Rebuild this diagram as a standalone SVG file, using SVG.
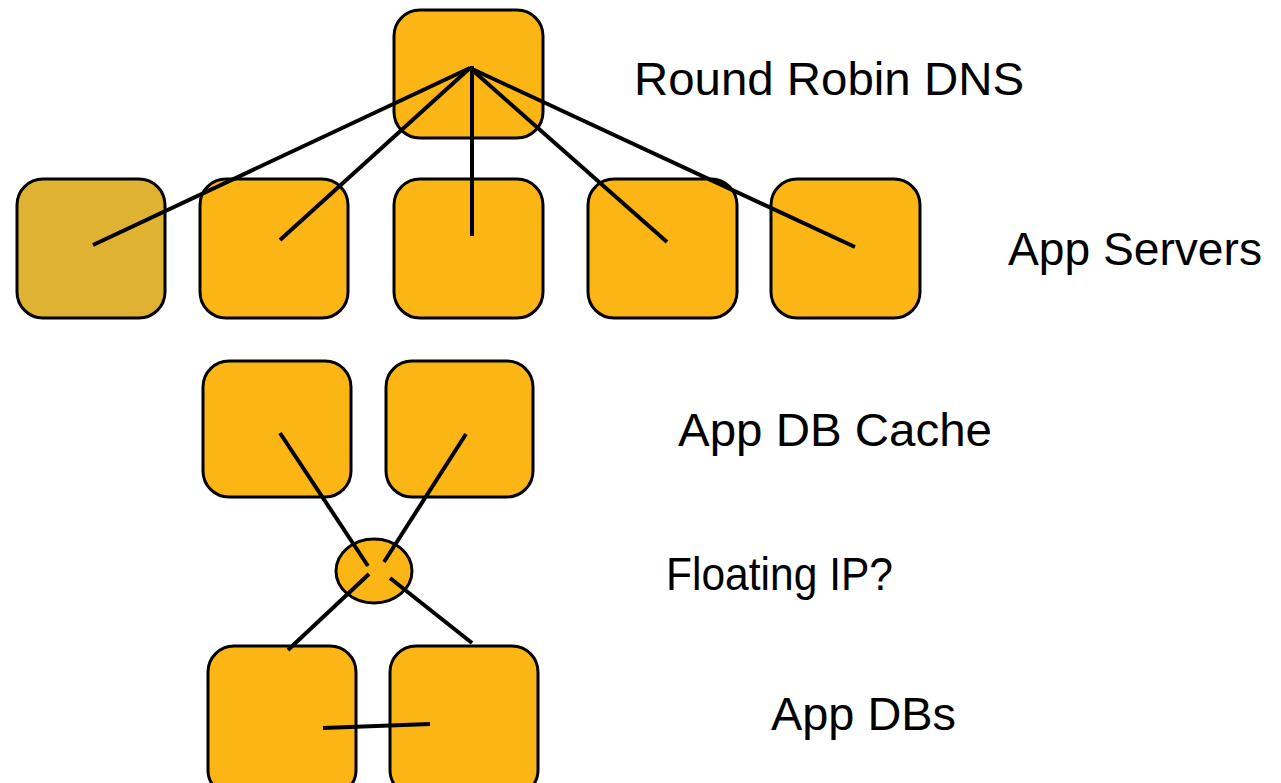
<svg xmlns="http://www.w3.org/2000/svg" width="1281" height="783" viewBox="0 0 1281 783">
  <style>
    .box { fill: #FBB616; stroke: #000; stroke-width: 3; }
    .box.dim { fill: #DFB232; }
    .link { stroke: #000; stroke-width: 4; fill: none; }
    .label { font-family: "Liberation Sans", Arial, sans-serif; font-size: 46px; fill: #000; }
  </style>
  <rect width="1281" height="783" fill="#fff"/>

  <!-- nodes -->
  <g id="dns"><rect class="box" x="394" y="10" width="149" height="128" rx="26"/></g>
  <g id="app1"><rect class="box dim" x="17" y="179" width="148" height="139" rx="26"/></g>
  <g id="app2"><rect class="box" x="200" y="179" width="148" height="139" rx="26"/></g>
  <g id="app3"><rect class="box" x="394" y="179" width="149" height="139" rx="26"/></g>
  <g id="app4"><rect class="box" x="588" y="179" width="149" height="139" rx="26"/></g>
  <g id="app5"><rect class="box" x="771" y="179" width="149" height="139" rx="26"/></g>
  <g id="cache1"><rect class="box" x="203" y="361" width="148" height="136" rx="26"/></g>
  <g id="cache2"><rect class="box" x="386" y="361" width="147" height="136" rx="26"/></g>
  <g id="floating-ip"><ellipse class="box" cx="374" cy="571" rx="38" ry="32"/></g>
  <g id="db1"><rect class="box" x="208" y="646" width="148" height="150" rx="26"/></g>
  <g id="db2"><rect class="box" x="390" y="646" width="148" height="150" rx="26"/></g>

  <!-- connectors -->
  <g id="connectors" class="link">
    <line x1="470" y1="68" x2="93" y2="245"/>
    <line x1="470" y1="68" x2="280" y2="240"/>
    <line x1="472" y1="66" x2="472" y2="236"/>
    <line x1="470" y1="68" x2="667" y2="242"/>
    <line x1="470" y1="68" x2="855" y2="247"/>
    <line x1="280" y1="433" x2="368" y2="566"/>
    <line x1="466" y1="434" x2="384" y2="562"/>
    <line x1="369" y1="574" x2="288" y2="650"/>
    <line x1="390" y1="578" x2="472" y2="643"/>
    <line x1="323" y1="728" x2="430" y2="724"/>
  </g>

  <!-- labels -->
  <text class="label" x="634" y="95" textLength="390" lengthAdjust="spacingAndGlyphs">Round Robin DNS</text>
  <text class="label" x="1008" y="265" textLength="254" lengthAdjust="spacingAndGlyphs">App Servers</text>
  <text class="label" x="678" y="446" textLength="314" lengthAdjust="spacingAndGlyphs">App DB Cache</text>
  <text class="label" x="666" y="590" textLength="227" lengthAdjust="spacingAndGlyphs">Floating IP?</text>
  <text class="label" x="771" y="730" textLength="185" lengthAdjust="spacingAndGlyphs">App DBs</text>
</svg>
